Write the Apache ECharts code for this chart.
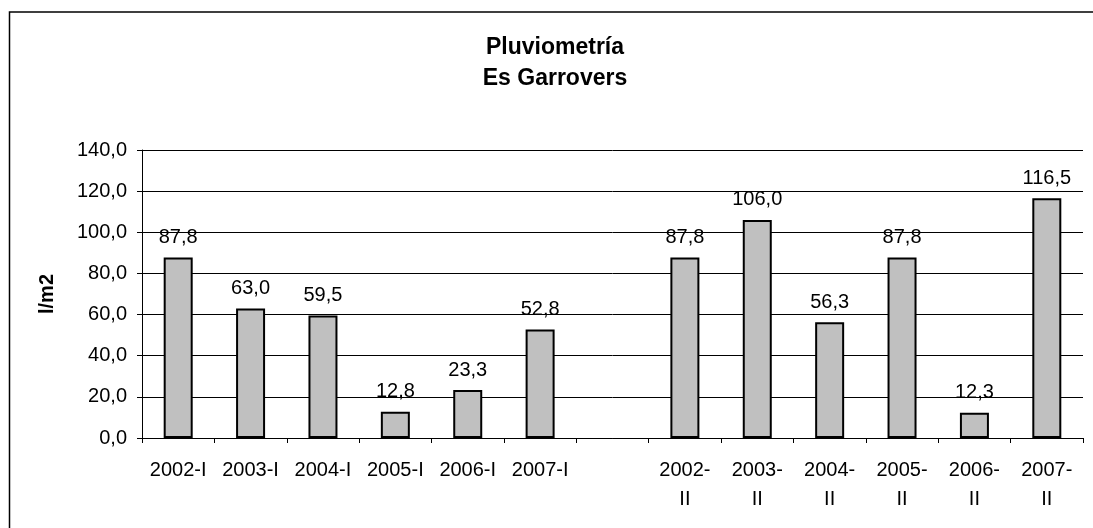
<!DOCTYPE html>
<html>
<head>
<meta charset="utf-8">
<script src="https://cdn.jsdelivr.net/npm/echarts@6/dist/echarts.min.js"></script>
<style>html,body{margin:0;padding:0;background:#fff}#c{width:1093px;height:528px}</style>
</head>
<body>
<div id="c"></div>
<script>
const categories = ['2002-I','2003-I','2004-I','2005-I','2006-I','2007-I','','2002-\nII','2003-\nII','2004-\nII','2005-\nII','2006-\nII','2007-\nII'];
const values = [87.8, 63.0, 59.5, 12.8, 23.3, 52.8, null, 87.8, 106.0, 56.3, 87.8, 12.3, 116.5];
const yTicks = { min: 0, max: 140, interval: 20 };
const titleText = 'Pluviometría\nEs Garrovers';
const yName = 'l/m2';

const fmt = v => v.toFixed(1).replace('.', ',');
const FONT = 'Liberation Sans, Arial, sans-serif';

const chart = echarts.init(document.getElementById('c'), null, {renderer: 'canvas'});
chart.setOption({
  animation: false,
  backgroundColor: '#fff',
  graphic: [{
    type: 'rect', silent: true,
    shape: {x: 9.5, y: 12, width: 1200, height: 600},
    style: {fill: 'none', stroke: '#000', lineWidth: 1.5}
  }],
  title: {
    text: titleText, left: 555, top: 32, textAlign: 'center', padding: 0,
    textStyle: {fontFamily: FONT, fontSize: 23, fontWeight: 'bold', color: '#000', lineHeight: 31}
  },
  grid: {left: 142, right: 10, top: 150, bottom: 90, containLabel: false},
  xAxis: {
    type: 'category', data: categories, boundaryGap: true,
    axisLine: {lineStyle: {color: '#000', width: 1}},
    axisTick: {show: true, length: 5, alignWithLabel: false, lineStyle: {color: '#000'}},
    axisLabel: {interval: 0, margin: 18, fontFamily: FONT, fontSize: 20, color: '#000', lineHeight: 29},
    splitLine: {show: false}
  },
  yAxis: {
    type: 'value', min: yTicks.min, max: yTicks.max, interval: yTicks.interval,
    name: yName, nameLocation: 'middle', nameGap: 85, nameRotate: 90,
    nameTextStyle: {fontFamily: FONT, fontSize: 20, fontWeight: 'bold', color: '#000'},
    axisLine: {show: true, lineStyle: {color: '#000', width: 1}},
    axisTick: {show: true, length: 5, lineStyle: {color: '#000'}},
    axisLabel: {margin: 15, fontFamily: FONT, fontSize: 20, color: '#000', formatter: fmt},
    splitLine: {show: true, lineStyle: {color: '#000', width: 1}}
  },
  series: [{
    type: 'bar', data: values, barWidth: 29,
    itemStyle: {color: '#c0c0c0', borderColor: '#000', borderWidth: 2},
    label: {
      show: true, position: 'top', distance: 10,
      fontFamily: FONT, fontSize: 20, color: '#000',
      formatter: p => (p.value == null ? '' : fmt(p.value))
    }
  }]
});
</script>
</body>
</html>
